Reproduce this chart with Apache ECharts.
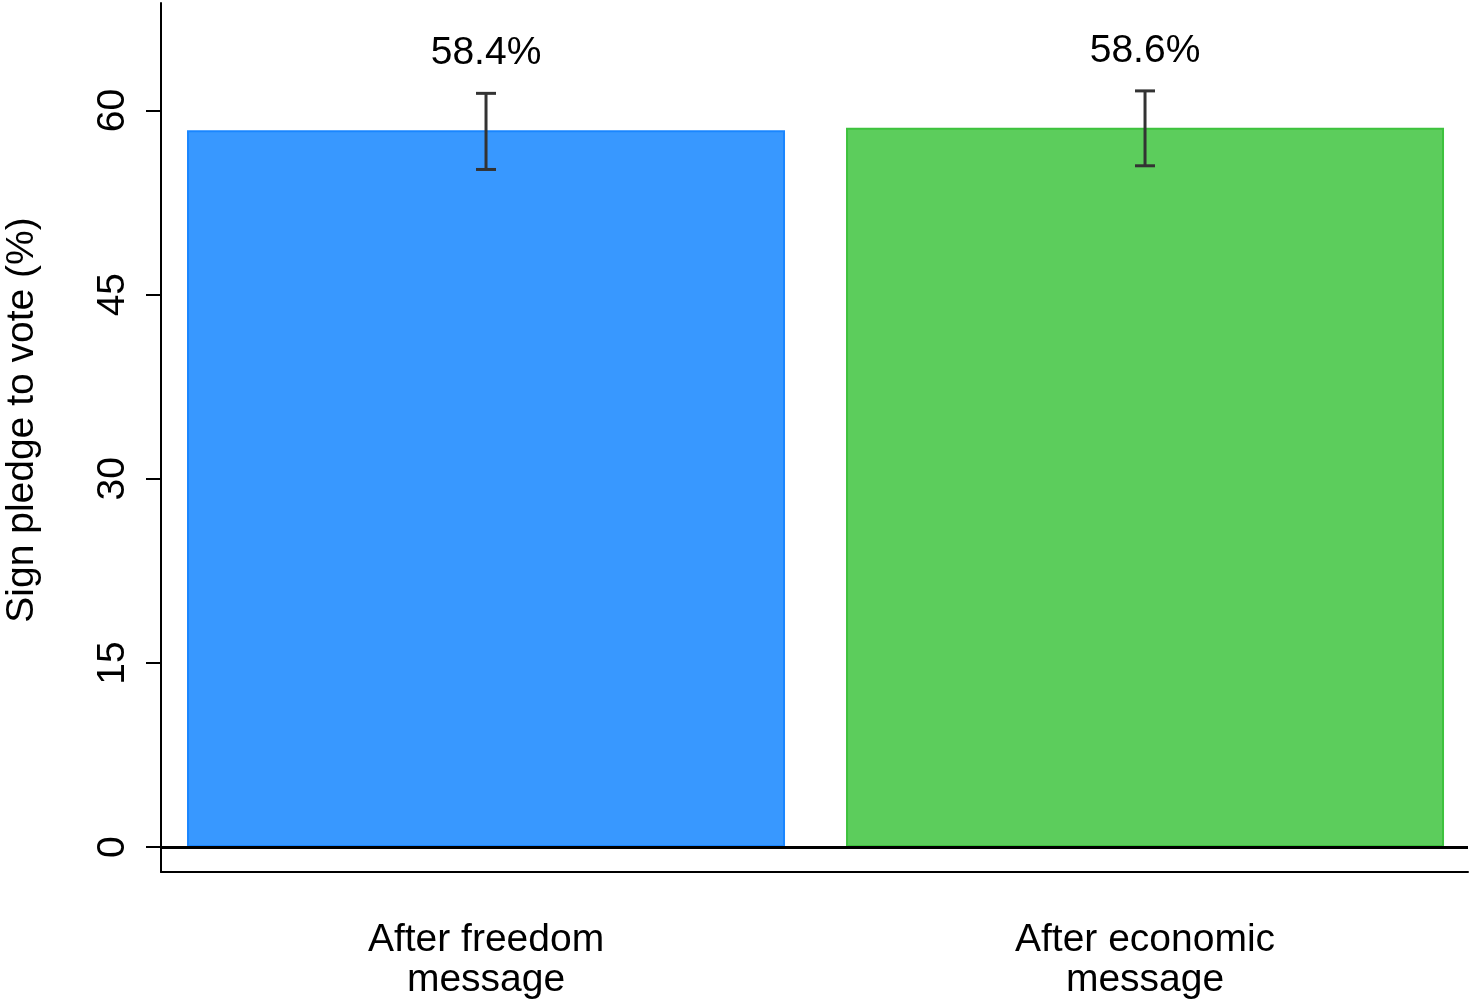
<!DOCTYPE html>
<html>
<head>
<meta charset="utf-8">
<script src="https://cdn.jsdelivr.net/npm/echarts@6/dist/echarts.min.js"></script>
<style>
html,body{margin:0;padding:0;background:#fff;}
#chart{width:1471px;height:1000px;}
</style>
</head>
<body>
<div id="chart"></div>
<script>
const categories = ['After freedom\nmessage', 'After economic\nmessage'];
const categoryPos = [1, 2];
const values = [58.4, 58.6];
const ciLow = [55.2, 55.5];
const ciHigh = [61.4, 61.6];
const valueLabels = ['58.4%', '58.6%'];
const barColors = ['#3898FF', '#5CCD5C'];
const barBorders = ['#1A86FF', '#3EC23E'];
const yTicks = [0, 15, 30, 45, 60];
const yTitle = 'Sign pledge to vote (%)';

const FONT = '"Liberation Sans", Arial, Helvetica, sans-serif';
const chart = echarts.init(document.getElementById('chart'));

chart.setOption({
  animation: false,
  backgroundColor: '#fff',
  grid: { left: 161, right: 3, top: 3, bottom: 124 },
  xAxis: {
    type: 'value',
    min: 0.5068,
    max: 2.4901,
    splitLine: { show: false },
    axisLine: { show: true, onZero: false, lineStyle: { color: '#000', width: 2 } },
    axisTick: { show: false },
    axisLabel: {
      color: '#000', fontSize: 39, fontFamily: FONT, lineHeight: 40, margin: 48,
      customValues: categoryPos,
      formatter: function (v) { return categories[categoryPos.indexOf(Math.round(v))] || ''; }
    }
  },
  yAxis: {
    type: 'value',
    min: -2.027,
    max: 68.76,
    splitLine: { show: false },
    axisLine: { show: true, onZero: false, lineStyle: { color: '#000', width: 2 } },
    axisTick: { show: true, length: 15, lineStyle: { color: '#000', width: 2 }, customValues: yTicks },
    axisLabel: { color: '#000', fontSize: 39, fontFamily: FONT, rotate: 90, margin: 28, customValues: yTicks }
  },
  graphic: [{
    type: 'text',
    x: 22, y: 420,
    rotation: Math.PI / 2,
    style: { text: yTitle, fill: '#000', font: '39px ' + FONT, align: 'center', verticalAlign: 'middle' }
  }],
  series: [
    {
      type: 'bar',
      barWidth: 598,
      data: values.map((v, i) => ({
        value: [categoryPos[i], v],
        itemStyle: { color: barColors[i], borderColor: barBorders[i], borderWidth: 2 }
      })),
      markLine: {
        silent: true,
        symbol: 'none',
        label: { show: false },
        lineStyle: { color: '#000', width: 3, type: 'solid' },
        data: [{ yAxis: 0 }]
      },
      z: 2
    },
    {
      type: 'custom',
      z: 5,
      data: values.map((v, i) => [categoryPos[i], ciLow[i], ciHigh[i]]),
      renderItem: function (params, api) {
        const x = api.value(0);
        const lo = api.coord([x, api.value(1)]);
        const hi = api.coord([x, api.value(2)]);
        const cx = lo[0];
        const cap = 10;
        const st = { stroke: '#333', lineWidth: 3 };
        return {
          type: 'group',
          children: [
            { type: 'line', shape: { x1: cx, y1: hi[1], x2: cx, y2: lo[1] }, style: st },
            { type: 'line', shape: { x1: cx - cap, y1: hi[1], x2: cx + cap, y2: hi[1] }, style: st },
            { type: 'line', shape: { x1: cx - cap, y1: lo[1], x2: cx + cap, y2: lo[1] }, style: st },
            { type: 'text', x: cx, y: hi[1] - 40,
              style: { text: valueLabels[params.dataIndex], fill: '#000', font: '39px ' + FONT, align: 'center', verticalAlign: 'middle' } }
          ]
        };
      }
    }
  ]
});
</script>
</body>
</html>
